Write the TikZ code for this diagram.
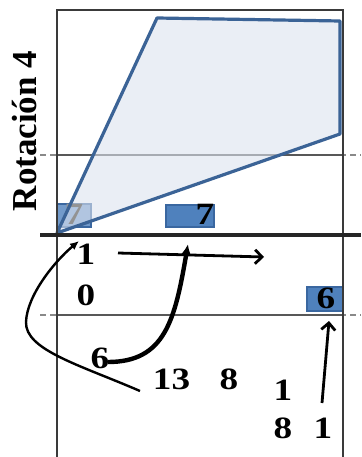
\documentclass[tikz,border=0pt]{standalone}
\usepackage{fontspec}
\setmainfont{Liberation Serif}
\newfontfamily\digitfont[FakeStretch=1.2]{Liberation Serif}
\usetikzlibrary{arrows.meta}
\definecolor{frame}{HTML}{3A3A3A}
\definecolor{polyfill}{HTML}{DCE3EF}
\definecolor{polyline}{HTML}{3B6396}
\definecolor{boxfill}{HTML}{4F81BD}
\definecolor{boxline}{HTML}{3A67A0}
\tikzset{
  frameline/.style={draw=frame, line width=2.8pt},
  dashline/.style={draw=frame!60, line width=2pt, dash pattern=on 6pt off 4pt},
  num/.style={font=\digitfont\fontsize{31}{31}\selectfont\bfseries, inner sep=0pt},
  bluebox/.style={draw=boxline, fill=boxfill, line width=1.2pt, inner sep=0pt},
  thinarrow/.style={draw=black, line width=2.4pt, -{Latex[length=9pt,width=8pt]}},
  thickarrow/.style={draw=black, line width=4.4pt, -{Latex[length=11pt,width=10pt]}},
  barbarrow/.style={draw=black, line width=2.8pt, -{Straight Barb[length=7pt,width=14pt]}},
}
\begin{document}
\begin{tikzpicture}[x=1pt,y=-1pt]
\useasboundingbox (0,0) rectangle (361,457);
\fill[white] (0,0) rectangle (361,457);
% dashed guides
\draw[dashline] (40,155) -- (361,155);
\draw[dashline] (40,315) -- (361,315);
\draw[draw=frame!85, line width=2.2pt] (57,155) -- (343,155);
\draw[draw=frame!85, line width=2.2pt] (57,315) -- (343,315);
% boxes
\node[bluebox, fill opacity=0.8, minimum width=34pt, minimum height=23pt] (b1) at (74,215.5) {};
\node[bluebox, minimum width=48pt, minimum height=22pt] (b2) at (190,216) {};
\node[num] (t2) at (205,214) {7};
\node[bluebox, minimum width=36pt, minimum height=24pt] (b3) at (325,299) {};
\node[num] (t3) at (326,298) {6};
% polygon
\coordinate (p1) at (57,233);
\coordinate (p2) at (157,18);
\coordinate (p3) at (340,21);
\coordinate (p4) at (340,134);
\fill[polyfill, fill opacity=0.6] (p1) -- (p2) -- (p3) -- (p4) -- cycle;
\node[num, text=gray!85] (t1) at (74,214) {7};
\draw[polyline, line width=3.2pt, line join=round] (p1) -- (p2) -- (p3) -- (p4) -- cycle;
% frame
\draw[frameline] (57,457) -- (57,10) -- (343,10) -- (343,457);
\draw[draw=black!85, line width=3.8pt] (40,235) -- (361,235);
% label
\node[font=\fontsize{35}{35}\selectfont\bfseries, rotate=90, inner sep=0pt] (lab) at (25,131) {Rotación 4};
% numbers
\node[num] (n1) at (86,254) {1};
\node[num] (n0) at (86,295.5) {0};
\node[num] (n6) at (100,358) {6};
\node[num] (n13) at (171.5,379) {13};
\node[num] (n8a) at (229,379) {8};
\node[num] (n1b) at (283,390) {1};
\node[num] (n8b) at (283,428.5) {8};
\node[num] (n1c) at (323,428.5) {1};
% arrows
\coordinate (a1s) at (140,391);
\coordinate (a1m) at (26,322);
\coordinate (a1e) at (79,241);
\draw[thinarrow] (a1s) .. controls (80,365) and (25,350) .. (a1m) .. controls (27,295) and (55,261) .. (a1e);
\coordinate (a2s) at (108,362);
\coordinate (a2e) at (188,244);
\draw[thickarrow] (a2s) .. controls (165,362) and (175,320) .. (a2e);
\coordinate (a3s) at (118,253);
\coordinate (a3e) at (264,257);
\draw[barbarrow] (a3s) -- (a3e);
\coordinate (a4s) at (322,403);
\coordinate (a4e) at (329,321);
\draw[barbarrow] (a4s) -- (a4e);
\end{tikzpicture}
\end{document}
